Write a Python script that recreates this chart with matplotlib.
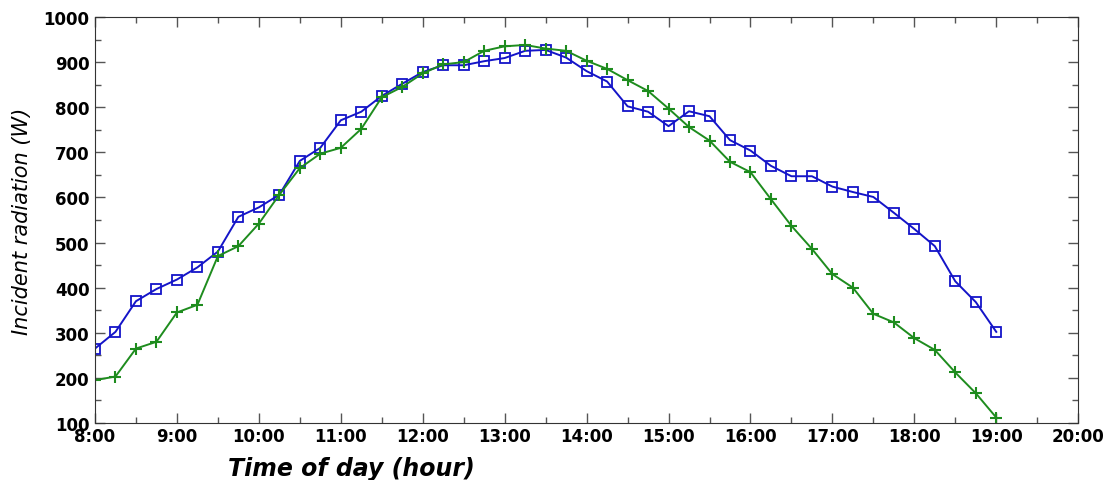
import numpy as np
import matplotlib.pyplot as plt
from matplotlib.ticker import MultipleLocator, FuncFormatter

# temps en heures (pas de 15 min)
heures = np.arange(8, 19.01, 0.25)

rad_bleu = [265, 302, 370, 397, 418, 445, 480, 557, 578, 606, 681, 710, 771, 790,
            825, 852, 878, 893, 893, 902, 909, 925, 927, 910, 880, 857, 802, 790,
            758, 791, 780, 727, 704, 670, 647, 647, 624, 612, 601, 566, 530, 492,
            414, 368, 302]
rad_vert = [195, 203, 265, 280, 345, 362, 470, 492, 542, 606, 665, 697, 710, 752,
            822, 845, 875, 895, 900, 925, 935, 938, 930, 925, 903, 885, 860, 836,
            797, 756, 726, 679, 656, 596, 537, 486, 430, 400, 342, 323, 288, 262,
            212, 166, 112]

plt.rcParams['font.family'] = ['DejaVu Sans']

fig = plt.figure(figsize=(11.07, 4.81), dpi=100)
ax = fig.add_axes([0.0858, 0.1185, 0.8882, 0.8441])

ax.plot(heures, rad_bleu, color='#1414c8', marker='s', markersize=7,
        markerfacecolor='none', markeredgewidth=1.3, linewidth=1.4)
ax.plot(heures, rad_vert, color='#1e8c1e', marker='+', markersize=8,
        markeredgewidth=1.5, linewidth=1.4)

ax.set_xlim(8, 20)
ax.set_ylim(100, 1000)
ax.xaxis.set_major_locator(MultipleLocator(1))
ax.xaxis.set_minor_locator(MultipleLocator(0.5))
ax.yaxis.set_major_locator(MultipleLocator(100))
ax.yaxis.set_minor_locator(MultipleLocator(50))
ax.xaxis.set_major_formatter(FuncFormatter(lambda v, p: '%d:00' % int(round(v))))

ax.tick_params(which='both', direction='in', top=True, right=True, color='#555555')
ax.tick_params(which='major', length=7, width=1)
ax.tick_params(which='minor', length=4, width=1)
ax.tick_params(axis='x', which='major', pad=3)
ax.tick_params(axis='y', which='major', pad=4)
for lab in ax.get_xticklabels() + ax.get_yticklabels():
    lab.set_fontsize(12)
    lab.set_fontweight('bold')
for sp in ax.spines.values():
    sp.set_color('#333333')

ax.set_xlabel("Time of day (hour)", fontsize=17, fontweight='bold', style='italic')
ax.xaxis.set_label_coords(0.261, -0.082)
ax.set_ylabel("Incident radiation (W)", fontsize=15, style='italic', labelpad=8)

plt.savefig('out.png', dpi=100)
